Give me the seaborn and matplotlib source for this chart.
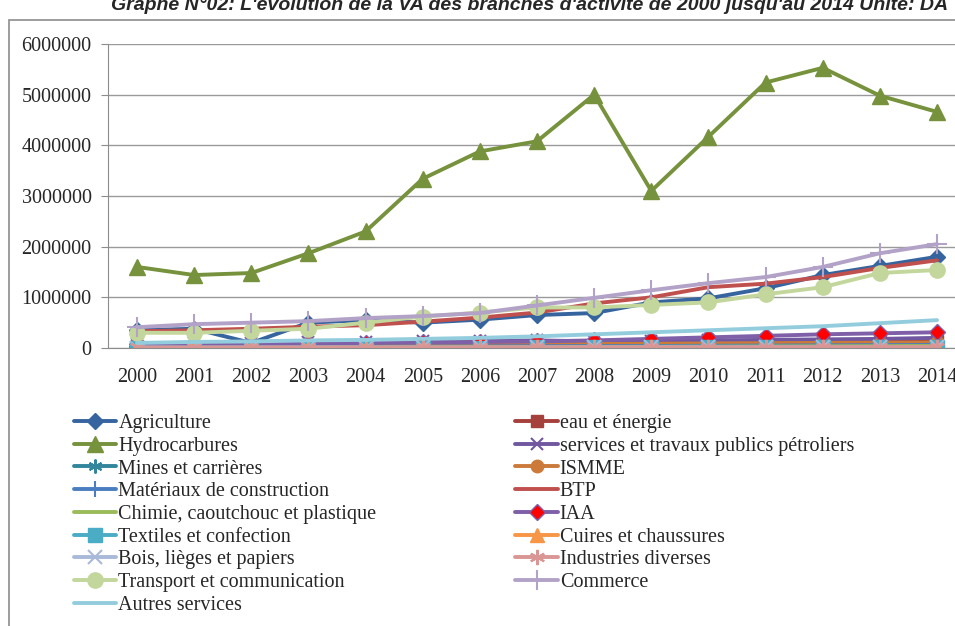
import numpy as np
import matplotlib
matplotlib.use("Agg")
import matplotlib.pyplot as plt
import seaborn as sns
from matplotlib.patches import Rectangle

# years on the category axis
years = ["2000", "2001", "2002", "2003", "2004", "2005", "2006", "2007",
         "2008", "2009", "2010", "2011", "2012", "2013", "2014"]

# valeur ajoutee par branche (DA)
agriculture = [350000, 380000, 100000, 500000, 550000, 500000, 560000, 650000,
               690000, 900000, 980000, 1180000, 1440000, 1620000, 1800000]
eau_energie = [30000, 35000, 40000, 45000, 50000, 55000, 60000, 65000,
               70000, 80000, 90000, 100000, 110000, 120000, 130000]
hydrocarbures = [1600000, 1440000, 1480000, 1870000, 2300000, 3340000, 3880000, 4080000,
                 5000000, 3100000, 4170000, 5240000, 5530000, 4980000, 4660000]
services_petroliers = [80000, 90000, 100000, 110000, 120000, 130000, 140000, 150000,
                       130000, 140000, 150000, 160000, 170000, 180000, 200000]
mines = [10000, 12000, 13000, 14000, 15000, 16000, 18000, 20000,
         21000, 22000, 24000, 25000, 27000, 28000, 30000]
ismme = [50000, 50000, 55000, 60000, 60000, 65000, 70000, 75000,
         80000, 85000, 90000, 95000, 100000, 105000, 110000]
materiaux = [20000, 22000, 24000, 26000, 28000, 30000, 32000, 35000,
             38000, 40000, 44000, 48000, 52000, 56000, 60000]
btp = [330000, 350000, 380000, 420000, 450000, 520000, 600000, 700000,
       880000, 1000000, 1200000, 1270000, 1400000, 1580000, 1730000]
chimie = [10000, 11000, 12000, 13000, 14000, 16000, 18000, 20000,
          22000, 24000, 27000, 30000, 33000, 36000, 40000]
iaa = [70000, 80000, 80000, 90000, 100000, 110000, 120000, 130000,
       150000, 180000, 210000, 240000, 270000, 290000, 310000]
textiles = [8000, 8000, 8000, 8000, 9000, 9000, 9000, 10000,
            10000, 10000, 11000, 11000, 12000, 12000, 13000]
cuirs = [2000, 2000, 2000, 2000, 2000, 2000, 2000, 2000,
         2000, 2000, 2500, 2500, 2500, 3000, 3000]
bois = [8000, 8000, 9000, 9000, 9000, 10000, 10000, 11000,
        11000, 12000, 12000, 13000, 13000, 14000, 14000]
industries_diverses = [10000, 10000, 11000, 11000, 12000, 12000, 13000, 13000,
                       14000, 14000, 15000, 16000, 17000, 18000, 19000]
transport = [300000, 300000, 340000, 380000, 500000, 620000, 700000, 800000,
             800000, 850000, 900000, 1060000, 1200000, 1480000, 1540000]
commerce = [410000, 470000, 500000, 530000, 590000, 630000, 690000, 840000,
            990000, 1140000, 1280000, 1400000, 1600000, 1870000, 2050000]
autres_services = [100000, 120000, 130000, 150000, 160000, 180000, 200000, 230000,
                   270000, 310000, 350000, 390000, 430000, 490000, 550000]

series = [
    ("Agriculture", agriculture, "#36649E", "D", 8, "#36649E"),
    ("eau et énergie", eau_energie, "#A5403C", "s", 8, "#A5403C"),
    ("Hydrocarbures", hydrocarbures, "#76923C", "^", 12, "#76923C"),
    ("services et travaux publics pétroliers", services_petroliers, "#7157A0", "x", 9, "#7157A0"),
    ("Mines et carrières", mines, "#31859C", (6, 2, 0), 10, "#31859C"),
    ("ISMME", ismme, "#CC7A3A", "o", 9, "#CC7A3A"),
    ("Matériaux de construction", materiaux, "#4A7EC0", "+", 11, "#4A7EC0"),
    ("BTP", btp, "#C0504D", None, 0, "#C0504D"),
    ("Chimie, caoutchouc et plastique", chimie, "#9BBB59", None, 0, "#9BBB59"),
    ("IAA", iaa, "#7F5FA8", "D", 8, "red"),
    ("Textiles et confection", textiles, "#4BACC6", "s", 10, "#4BACC6"),
    ("Cuires et chaussures", cuirs, "#F79646", "^", 10, "#F79646"),
    ("Bois, lièges et papiers", bois, "#A9B9D8", "x", 10, "#A9B9D8"),
    ("Industries diverses", industries_diverses, "#D99694", (6, 2, 0), 11, "#D99694"),
    ("Transport et communication", transport, "#C3D69B", "o", 11, "#C3D69B"),
    ("Commerce", commerce, "#B3A2C7", "+", 14, "#B3A2C7"),
    ("Autres services", autres_services, "#93CDDD", None, 0, "#93CDDD"),
]

sns.set_style("white")
plt.rcParams["font.family"] = ["Liberation Serif", "DejaVu Serif"]

fig = plt.figure(figsize=(9.55, 6.26), dpi=100)
ax = fig.add_axes([108.4 / 955, 1 - 348 / 626, 857.2 / 955, 304 / 626])

xpos = np.arange(len(years))
for name, vals, col, mk, ms, face in series:
    kw = dict(x=xpos, y=vals, color=col, linewidth=2.8, label=name, ax=ax)
    if mk is not None:
        kw.update(marker=mk, markersize=ms, markerfacecolor=face,
                  markeredgecolor=col, markeredgewidth=1.5 if mk in ("x", "+", (6, 2, 0)) else 1)
    sns.lineplot(**kw)

ax.set_xlim(-0.5, 14.5)
ax.set_ylim(0, 6000000)
ax.set_yticks(np.arange(0, 6000001, 1000000))
ax.set_yticklabels([str(v) for v in range(0, 6000001, 1000000)])
ax.set_xticks(xpos)
ax.set_xticklabels(years)
ax.grid(axis="y", color="#9a9a9a", linewidth=1)
ax.set_axisbelow(True)
for s in ("top", "right"):
    ax.spines[s].set_visible(False)
ax.spines["left"].set_color("#8c8c8c")
ax.spines["bottom"].set_color("#8c8c8c")
ax.tick_params(axis="y", length=5, color="#8c8c8c", pad=7, labelsize=14.5, direction="out", left=True)
ax.tick_params(axis="x", length=0, pad=14.5, labelsize=14.5)
ax.set_xlabel("")
ax.set_ylabel("")
ax.legend_.remove()

handles, labels = ax.get_legend_handles_labels()
# Excel fills the legend row by row; matplotlib fills column by column
order = list(range(0, len(labels), 2)) + list(range(1, len(labels), 2))
fig.legend([handles[i] for i in order], [labels[i] for i in order],
           ncol=2, loc="upper left", bbox_to_anchor=(74 / 955, 1 - 414 / 626),
           frameon=False, fontsize=14.5, handlelength=2.1, handletextpad=0.1,
           labelspacing=0.18, columnspacing=6.9, borderpad=0, borderaxespad=0)

# chart frame
fig.patches.append(Rectangle((9 / 955, -0.1), 1.2, 1 - 20 / 626 + 0.1,
                             transform=fig.transFigure, fill=False,
                             edgecolor="#8c8c8c", linewidth=1.2))

fig.text(530 / 955, 1 - 10 / 626,
         "Graphe N°02: L'évolution de la VA des branches d'activité de 2000 jusqu'au 2014 Unité: DA",
         ha="center", va="baseline", fontsize=14, fontweight="bold", fontstyle="italic",
         family=["Liberation Sans", "DejaVu Sans"])

fig.savefig("out.png", dpi=100, facecolor="white")
